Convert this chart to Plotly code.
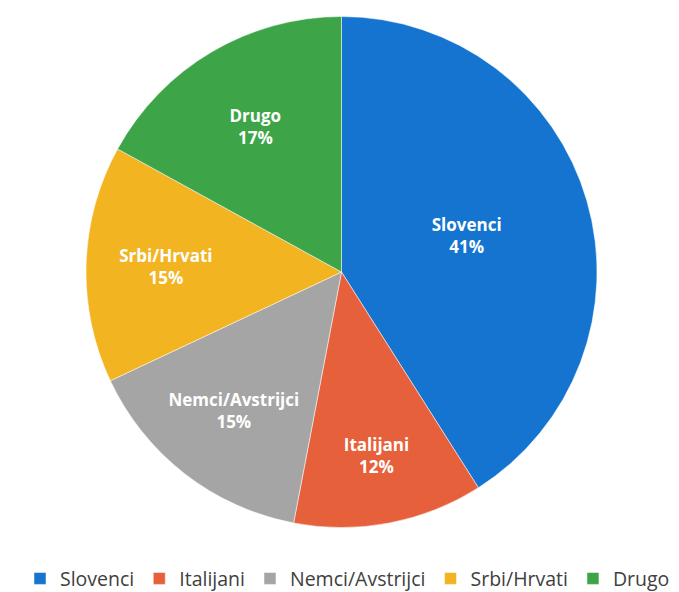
import plotly.graph_objects as go

labels = ["Slovenci", "Italijani", "Nemci/Avstrijci", "Srbi/Hrvati", "Drugo"]
values = [41, 12, 15, 15, 17]
colors = ["#1474D0", "#E5603B", "#A5A5A5", "#F3B422", "#3DA547"]

fig = go.Figure(go.Pie(
    labels=labels,
    values=values,
    sort=False,
    direction="clockwise",
    rotation=0,
    marker=dict(colors=colors, line=dict(color="white", width=0.5)),
    texttemplate="<b>%{label}<br>%{percent:.0%}</b>",
    textposition="inside",
    insidetextorientation="horizontal",
    textfont=dict(color="white", size=17, family="Open Sans"),
    domain=dict(x=[78/679, 589/679], y=[1-519.5/592, 1-8.5/592]),
    hoverinfo="label+percent",
))

fig.update_layout(
    width=679, height=592,
    margin=dict(l=0, r=0, t=0, b=0),
    paper_bgcolor="white",
    plot_bgcolor="white",
    showlegend=True,
    legend=dict(
        orientation="h",
        x=0.5, xanchor="center",
        y=0.003, yanchor="bottom",
        font=dict(size=19.5, family="Open Sans", color="#404040"),
        itemwidth=30,
        traceorder="normal",
    ),
)

fig.write_html("out.html")
